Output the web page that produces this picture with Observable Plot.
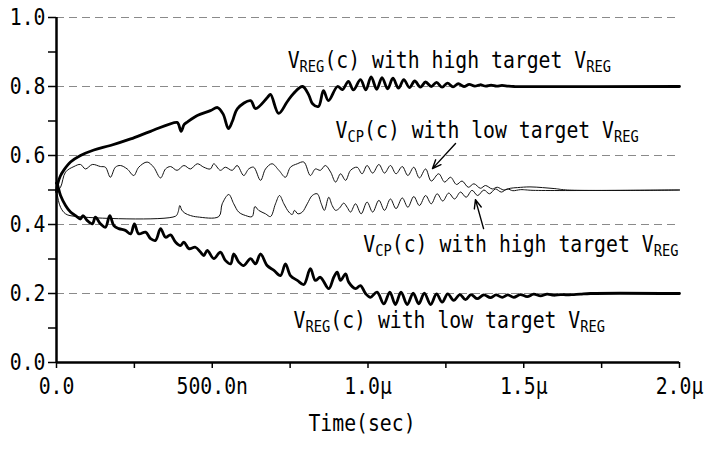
<!DOCTYPE html>
<html><head><meta charset="utf-8">
<script src="https://cdn.jsdelivr.net/npm/d3@7"></script>
<script src="https://cdn.jsdelivr.net/npm/@observablehq/plot@0.6"></script>
<style>body{margin:0;background:#fff} svg{display:block}</style>
</head><body><div id="chart"></div>
<script>
// time in ns, voltage in V
const vregHighT = [0,4,12,23,45,77,120,173,238,302,387,392,400,410,420,452,494,517,535,552,565,581,623,639,677,687,713,740,761,790,810,822,841,857,873,902,918,937,953,976,993,1010,1028,1045,1063,1080,1098,1115,1133,1150,1168,1185,1203,1220,1238,1255,1273,1290,1308,1325,1343,1360,1378,1395,1413,1430,1450,1470,2000];
const vregHighV = [0.495,0.518,0.540,0.557,0.581,0.600,0.616,0.629,0.648,0.670,0.696,0.690,0.670,0.690,0.697,0.716,0.730,0.739,0.720,0.678,0.700,0.736,0.759,0.736,0.768,0.777,0.722,0.755,0.780,0.800,0.775,0.750,0.742,0.788,0.759,0.800,0.791,0.815,0.790,0.820,0.790,0.828,0.792,0.826,0.793,0.824,0.795,0.820,0.797,0.816,0.798,0.813,0.800,0.812,0.798,0.810,0.799,0.808,0.800,0.806,0.801,0.805,0.801,0.804,0.801,0.803,0.801,0.800,0.800];

const vcpLowT = [0,13,29,56,77,93,115,141,157,173,189,205,227,248,264,291,312,334,350,366,387,409,430,452,473,494,505,526,542,564,580,601,617,633,655,671,692,714,735,751,773,794,815,831,847,863,880,896,912,928,944,965,981,997,1015,1035,1053,1072,1090,1110,1128,1147,1165,1185,1203,1227,1246,1265,1284,1302,1322,1340,1361,1377,1399,1415,1436,1457,1480,1520,1560,1600,1640,2000];
const vcpLowV = [0.495,0.508,0.552,0.568,0.574,0.561,0.574,0.568,0.566,0.537,0.566,0.571,0.561,0.542,0.566,0.581,0.566,0.535,0.561,0.568,0.557,0.571,0.561,0.576,0.566,0.561,0.576,0.557,0.566,0.557,0.571,0.542,0.561,0.566,0.528,0.561,0.576,0.557,0.537,0.566,0.576,0.581,0.542,0.561,0.557,0.571,0.552,0.523,0.547,0.528,0.557,0.566,0.547,0.571,0.549,0.574,0.549,0.571,0.547,0.568,0.542,0.566,0.535,0.561,0.526,0.547,0.523,0.537,0.516,0.526,0.508,0.518,0.505,0.513,0.503,0.508,0.500,0.505,0.507,0.509,0.507,0.504,0.500,0.500];

const vcpHighT = [0,2,13,29,56,382,390,396,402,412,430,452,521,532,553,569,585,607,628,637,649,671,687,703,716,730,746,757,764,775,789,805,821,837,850,860,874,885,896,908,922,933,944,960,978,997,1015,1035,1053,1072,1090,1110,1128,1147,1165,1185,1203,1222,1240,1259,1278,1297,1315,1334,1352,1372,1390,1409,1428,1447,1465,1490,1530,2000];
const vcpHighV = [0.510,0.489,0.450,0.431,0.424,0.424,0.435,0.455,0.442,0.433,0.426,0.422,0.423,0.460,0.487,0.460,0.436,0.426,0.423,0.452,0.441,0.431,0.423,0.460,0.484,0.460,0.436,0.429,0.441,0.431,0.436,0.460,0.484,0.489,0.460,0.441,0.479,0.455,0.441,0.447,0.462,0.450,0.436,0.460,0.431,0.465,0.436,0.470,0.441,0.474,0.446,0.477,0.450,0.481,0.455,0.484,0.460,0.489,0.468,0.491,0.474,0.494,0.479,0.499,0.484,0.500,0.489,0.503,0.494,0.503,0.498,0.501,0.499,0.500];

const vregLowT = [0,2,13,29,45,61,77,85,98,115,125,141,157,171,184,200,221,238,250,264,286,302,318,334,350,366,382,398,409,425,446,462,473,484,505,526,542,559,569,585,601,623,639,655,676,698,719,735,751,773,794,815,831,847,874,890,901,912,928,938,960,976,992,1008,1029,1051,1070,1088,1106,1126,1145,1163,1181,1201,1220,1238,1256,1275,1295,1313,1331,1350,1372,1393,1411,1431,1449,1468,1489,1511,1532,1554,1575,1596,1618,1639,1661,1682,1714,2000];
const vregLowV = [0.520,0.518,0.484,0.455,0.436,0.426,0.416,0.426,0.412,0.402,0.421,0.402,0.392,0.426,0.397,0.388,0.383,0.373,0.402,0.373,0.378,0.359,0.354,0.388,0.363,0.370,0.349,0.339,0.349,0.330,0.334,0.320,0.310,0.325,0.301,0.320,0.296,0.286,0.315,0.291,0.281,0.301,0.286,0.315,0.281,0.267,0.252,0.286,0.252,0.238,0.226,0.272,0.238,0.247,0.214,0.247,0.262,0.238,0.257,0.233,0.214,0.223,0.200,0.189,0.204,0.170,0.204,0.168,0.204,0.168,0.201,0.170,0.201,0.168,0.199,0.175,0.199,0.180,0.197,0.182,0.197,0.185,0.196,0.188,0.196,0.189,0.196,0.189,0.197,0.191,0.198,0.193,0.198,0.195,0.197,0.196,0.197,0.198,0.200,0.200];

const yTicks = [0, 0.2, 0.4, 0.6, 0.8, 1.0];
const yTickLabels = ["0.0", "0.2", "0.4", "0.6", "0.8", "1.0"];
const yMinor = [0.1, 0.3, 0.5, 0.7, 0.9];
const xTicks = [0, 500, 1000, 1500, 2000];
const xTickLabels = ["0.0", "500.0n", "1.0µ", "1.5µ", "2.0µ"];
const xMinor = [250, 750, 1250, 1750];
const gridV = [0.2, 0.4, 0.6, 0.8, 1.0];

const labelText = ["V_{REG}(c) with high target V_{REG}", "V_{CP}(c) with low target V_{REG}", "V_{CP}(c) with high target V_{REG}", "V_{REG}(c) with low target V_{REG}"];
const labelT = [742, 896, 985, 761];
const labelV = [0.855, 0.652, 0.319, 0.099];

const arrowT1 = [1281, 1371];
const arrowV1 = [0.635, 0.388];
const arrowT2 = [1207, 1345];
const arrowV2 = [0.562, 0.472];

const toRows = (T, V) => T.map((t, i) => ({t, v: V[i]}));
const labels = labelText.map((text, i) => ({text, t: labelT[i], v: labelV[i]}));
const arrows = arrowT1.map((t, i) => ({x1: t, y1: arrowV1[i], x2: arrowT2[i], y2: arrowV2[i]}));
const yMap = new Map(yTicks.map((d, i) => [d, yTickLabels[i]]));
const xMap = new Map(xTicks.map((d, i) => [d, xTickLabels[i]]));

const font = "'DejaVu Sans Mono', monospace";
const FS = 23;
const chart = Plot.plot({
  width: 710, height: 450,
  marginLeft: 56, marginRight: 31, marginTop: 17, marginBottom: 88,
  x: {domain: [0, 2000]},
  y: {domain: [0, 1]},
  style: {fontFamily: font, fontSize: FS + "px", color: "black", background: "white", overflow: "visible"},
  marks: [
    Plot.ruleY(gridV, {stroke: "#8a8a8a", strokeDasharray: "8,5", strokeWidth: 1}),
    Plot.axisY(yMinor, {tickSize: 8, tickFormat: () => "", label: null, strokeWidth: 1.5}),
    Plot.axisY(yTicks, {tickSize: 8, tickPadding: 3, tickFormat: d => yMap.get(d), label: null, strokeWidth: 1.5, fontSize: FS}),
    Plot.axisX(xMinor, {tickSize: 6, tickFormat: () => "", label: null, strokeWidth: 1.5}),
    Plot.axisX(xTicks, {tickSize: 6, tickPadding: 9, tickFormat: d => xMap.get(d), label: null, strokeWidth: 1.5, fontSize: FS}),
    Plot.line(toRows(vcpLowT, vcpLowV), {x: "t", y: "v", stroke: "#111", strokeWidth: 1, curve: "catmull-rom"}),
    Plot.line(toRows(vcpHighT, vcpHighV), {x: "t", y: "v", stroke: "#111", strokeWidth: 1, curve: "catmull-rom"}),
    Plot.line(toRows(vregHighT, vregHighV), {x: "t", y: "v", stroke: "#000", strokeWidth: 2.8, curve: "catmull-rom"}),
    Plot.line(toRows(vregLowT, vregLowV), {x: "t", y: "v", stroke: "#000", strokeWidth: 2.8, curve: "catmull-rom"}),
    Plot.ruleX([0], {strokeWidth: 2.5}),
    Plot.ruleY([0], {strokeWidth: 2.5}),
    Plot.arrow(arrows, {x1: "x1", y1: "y1", x2: "x2", y2: "y2", stroke: "black", strokeWidth: 1.4, headLength: 10, headAngle: 45}),
    Plot.text(labels, {x: "t", y: "v", text: "text", textAnchor: "start", lineAnchor: "bottom", fontSize: FS, fill: "black"}),
    Plot.text(["Time(sec)"], {frameAnchor: "bottom", dy: 68, dx: -6, lineAnchor: "bottom", fontSize: FS, fill: "black"})
  ]
});

// turn _{...} markup into subscript tspans
chart.querySelectorAll("text").forEach(el => {
  const s = el.textContent;
  if (!s.includes("_{")) return;
  el.textContent = "";
  let shifted = false;
  s.split(/(_\{[^}]*\})/).forEach(p => {
    if (!p) return;
    const ts = document.createElementNS("http://www.w3.org/2000/svg", "tspan");
    if (p.startsWith("_{")) {
      ts.textContent = p.slice(2, -1);
      ts.setAttribute("font-size", "16");
      ts.setAttribute("dy", "4");
      shifted = true;
    } else {
      ts.textContent = p;
      if (shifted) { ts.setAttribute("dy", "-4"); shifted = false; }
    }
    el.appendChild(ts);
  });
});

// condense glyphs horizontally (tall, narrow look of the original)
chart.querySelectorAll("text").forEach(el => {
  const tr = el.getAttribute("transform");
  if (tr) {
    el.setAttribute("transform", tr + " scale(0.86,1)");
  } else {
    const x = +(el.getAttribute("x") || 0), y = +(el.getAttribute("y") || 0);
    el.removeAttribute("x"); el.removeAttribute("y");
    el.setAttribute("transform", `translate(${x},${y}) scale(0.86,1)`);
  }
});

document.getElementById("chart").appendChild(chart);
</script>
</body></html>
